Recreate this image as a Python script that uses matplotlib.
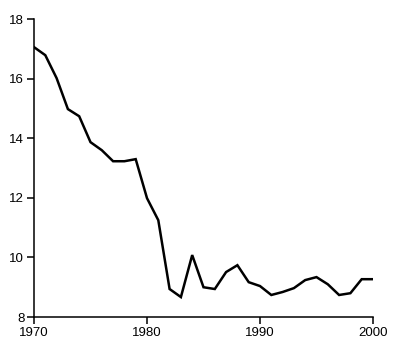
import matplotlib
matplotlib.use("Agg")
import matplotlib.pyplot as plt

years = list(range(1970, 2001))
values = [17.06, 16.79, 16.02, 14.98, 14.74, 13.87, 13.60, 13.23, 13.23, 13.30,
          11.99, 11.25, 8.94, 8.67, 10.08, 9.00, 8.94, 9.51, 9.74, 9.17,
          9.04, 8.74, 8.84, 8.97, 9.24, 9.34, 9.10, 8.74, 8.80, 9.27, 9.27]
xticks = [1970, 1980, 1990, 2000]
yticks = [8, 10, 12, 14, 16, 18]

plt.rcParams['font.family'] = ['Liberation Sans', 'DejaVu Sans']
fig = plt.figure(figsize=(4.0, 3.48), dpi=100)
ax = fig.add_axes([0.085, 0.089, 0.8475, 0.856])
ax.plot(years, values, color='black', linewidth=1.8, solid_joinstyle='miter')
ax.set_xlim(1970, 2000)
ax.set_ylim(8, 18)
ax.set_xticks(xticks)
ax.set_yticks(yticks)
for s in ['top', 'right']:
    ax.spines[s].set_visible(False)
for s in ['left', 'bottom']:
    ax.spines[s].set_linewidth(1.1)
ax.tick_params(direction='out', length=5, width=1.1, labelsize=9.5, pad=2,
               colors='black')
fig.savefig('out.png', dpi=100)
